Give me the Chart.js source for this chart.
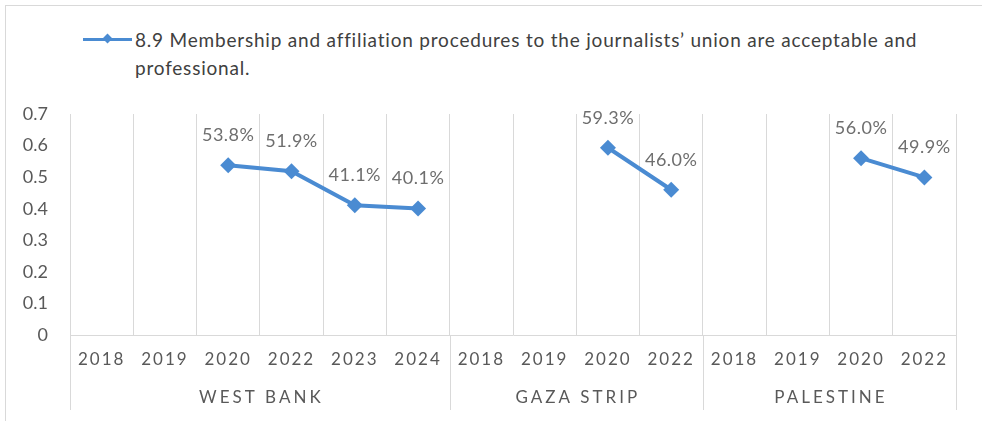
<!DOCTYPE html>
<html>
<head>
<meta charset="utf-8">
<script src="https://cdn.jsdelivr.net/npm/chart.js@4/dist/chart.umd.min.js"></script>
<style>
  html, body { margin: 0; padding: 0; background: #fff; }
  #wrap { position: relative; width: 982px; height: 421px; overflow: hidden; font-family: Lato, "Open Sans", sans-serif; }
  #frame { position: absolute; left: 5px; top: 5px; right: -2px; bottom: -2px; border-left: 1px solid #d9d9d9; border-top: 1px solid #d9d9d9; }
  #legend { position: absolute; left: 0; top: 0; }
  #legKey { position: absolute; left: 83px; top: 38px; width: 49px; height: 3px; background: #4a8bd2; }
  #legKey span { position: absolute; left: 21px; top: -3px; width: 7px; height: 7px; background: #4a8bd2; transform: rotate(45deg); }
  #legText { position: absolute; left: 135px; top: 26px; width: 820px; font-size: 19px; line-height: 28px; letter-spacing: 0.8px; color: #404040; }
  canvas { position: absolute; left: 0; top: 0; }
</style>
</head>
<body>
<div id="wrap">
  <div id="frame"></div>
  <div id="legend"><div id="legKey"><span></span></div><div id="legText"></div></div>
  <canvas id="chart" width="982" height="421"></canvas>
</div>
<script>
// series name
const seriesLabel = '8.9 Membership and affiliation procedures to the journalists\u2019 union are acceptable and professional.';

// category groups and their years
const groups = ['WEST BANK', 'GAZA STRIP', 'PALESTINE'];
const westBankYears = ['2018', '2019', '2020', '2022', '2023', '2024'];
const gazaYears = ['2018', '2019', '2020', '2022'];
const palestineYears = ['2018', '2019', '2020', '2022'];

// values (share, 0-1), null where there is no data
const westBankValues = [null, null, 0.538, 0.519, 0.411, 0.401];
const gazaValues = [null, null, 0.593, 0.460];
const palestineValues = [null, null, 0.560, 0.499];

// y axis ticks
const yTicks = [0, 0.1, 0.2, 0.3, 0.4, 0.5, 0.6, 0.7];

const yearGroups = [westBankYears, gazaYears, palestineYears];
const labels = [].concat(westBankYears, gazaYears, palestineYears);
const values = [].concat(westBankValues, gazaValues, palestineValues);

const blue = '#4a8bd2';
const grid = '#d9d9d9';
const textGray = '#595959';

document.getElementById('legText').textContent = seriesLabel;

// spaced-out x tick labels like the original
const spacedTicks = {
  id: 'spacedTicks',
  beforeDraw(chart) {
    const sc = chart.scales.x;
    if (sc._spaced) return;
    const orig = sc.drawLabels;
    sc.drawLabels = function (area) {
      this.ctx.save();
      this.ctx.letterSpacing = '2px';
      orig.call(this, area);
      this.ctx.restore();
    };
    sc._spaced = true;
  }
};

// group names under the years and the long separator lines
const groupAxis = {
  id: 'groupAxis',
  afterDraw(chart) {
    const { ctx, chartArea } = chart;
    const sc = chart.scales.x;
    const half = (sc.getPixelForValue(1) - sc.getPixelForValue(0)) / 2;
    ctx.save();
    ctx.strokeStyle = grid;
    ctx.lineWidth = 1;
    let start = 0;
    const edges = [0];
    yearGroups.forEach(g => { start += g.length; edges.push(start); });
    edges.forEach((e, i) => {
      const x = Math.round(i === edges.length - 1 ? sc.getPixelForValue(e - 1) + half : sc.getPixelForValue(e) - half) + 0.5;
      ctx.beginPath();
      ctx.moveTo(x, chartArea.bottom);
      ctx.lineTo(x, 410);
      ctx.stroke();
    });
    ctx.fillStyle = textGray;
    ctx.font = '17px Lato, "Open Sans", sans-serif';
    ctx.letterSpacing = '3px';
    ctx.textAlign = 'center';
    ctx.textBaseline = 'middle';
    groups.forEach((name, i) => {
      const a = sc.getPixelForValue(edges[i]) - half;
      const b = sc.getPixelForValue(edges[i + 1] - 1) + half;
      ctx.fillText(name, (a + b) / 2 + 1.5, 398);
    });
    ctx.restore();
  }
};

// percent labels above the points
const pointLabels = {
  id: 'pointLabels',
  afterDatasetsDraw(chart) {
    const { ctx } = chart;
    const meta = chart.getDatasetMeta(0);
    ctx.save();
    ctx.fillStyle = '#6e6e6e';
    ctx.font = '18px Lato, "Open Sans", sans-serif';
    ctx.letterSpacing = '0.5px';
    ctx.textAlign = 'center';
    ctx.textBaseline = 'middle';
    meta.data.forEach((pt, i) => {
      const v = values[i];
      if (v === null) return;
      ctx.fillText((v * 100).toFixed(1) + '%', pt.x, pt.y - 30);
    });
    ctx.restore();
  }
};

new Chart(document.getElementById('chart'), {
  type: 'line',
  data: {
    labels: labels,
    datasets: [{
      label: seriesLabel,
      data: values,
      borderColor: blue,
      backgroundColor: blue,
      borderWidth: 4,
      pointStyle: 'rectRot',
      pointRadius: 8,
      pointHoverRadius: 8,
      pointBorderWidth: 0,
      spanGaps: false,
      tension: 0
    }]
  },
  options: {
    responsive: false,
    devicePixelRatio: 1,
    animation: false,
    layout: { padding: { top: 114, right: 26, bottom: 0, left: 0 } },
    plugins: {
      legend: { display: false },
      tooltip: { enabled: false }
    },
    scales: {
      x: {
        type: 'category',
        offset: true,
        grid: { offset: true, color: grid, lineWidth: 1, drawTicks: false },
        border: { color: grid, width: 1 },
        ticks: {
          color: textGray,
          font: { family: 'Lato, "Open Sans", sans-serif', size: 17 },
          padding: 14,
          maxRotation: 0,
          autoSkip: false
        },
        afterFit(s) { s.height = 86; }
      },
      y: {
        min: yTicks[0],
        max: yTicks[yTicks.length - 1],
        afterBuildTicks(s) { s.ticks = yTicks.map(v => ({ value: v })); },
        grid: { display: false, drawTicks: false },
        border: { display: false },
        ticks: {
          color: textGray,
          font: { family: 'Lato, "Open Sans", sans-serif', size: 18 },
          padding: 22,
          callback: v => String(v)
        },
        afterFit(s) { s.width = 70; }
      }
    }
  },
  plugins: [spacedTicks, groupAxis, pointLabels]
});
</script>
</body>
</html>
